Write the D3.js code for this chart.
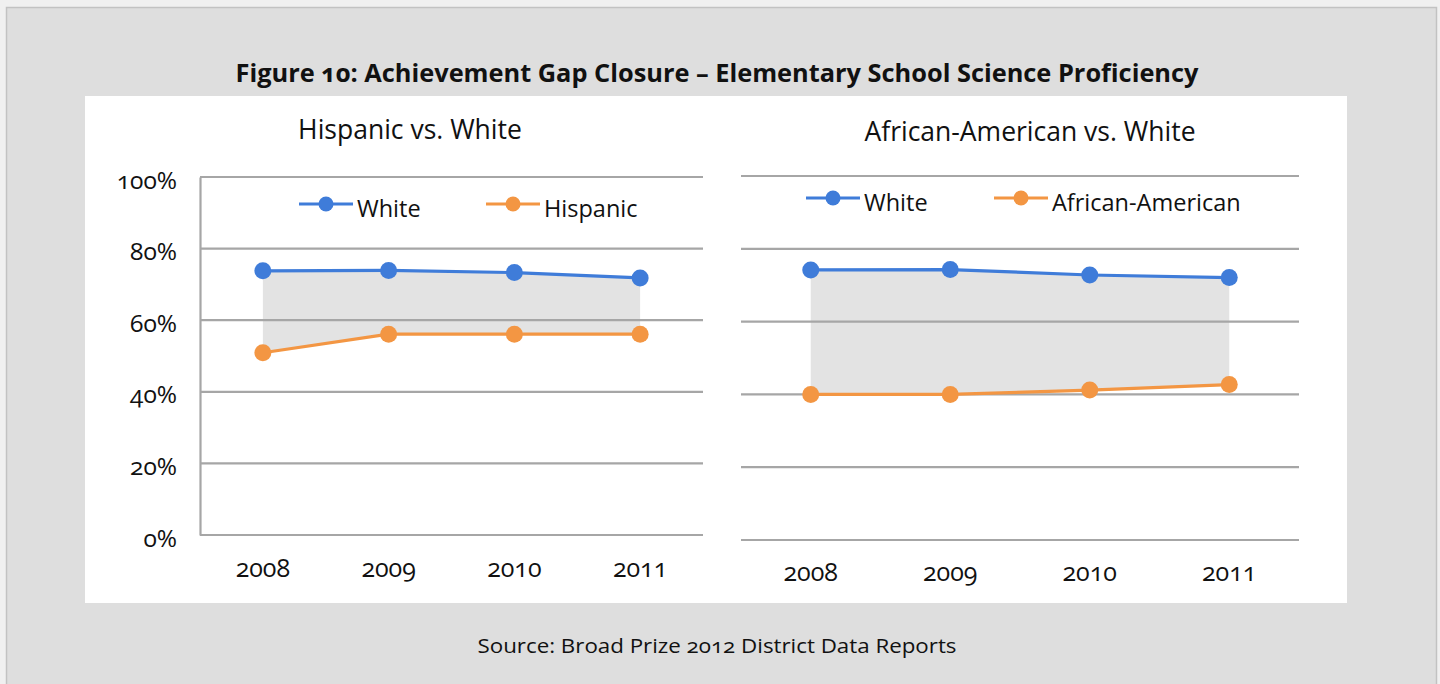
<!DOCTYPE html>
<html>
<head>
<meta charset="utf-8">
<script src="https://cdn.jsdelivr.net/npm/d3@7"></script>
<style>
  html, body { margin: 0; padding: 0; background: #f0f0f0; }
  svg { display: block; font-family: "Open Sans", "Noto Sans", sans-serif; font-variant-numeric: oldstyle-nums; }
  text { font-feature-settings: "onum" 1; }
</style>
</head>
<body>
<svg id="chart" width="1440" height="684"></svg>
<script>
// ---------- data ----------
const years = ["2008", "2009", "2010", "2011"];
const whiteVsHispanic = [73.8, 73.9, 73.3, 71.8];
const hispanic = [50.9, 56.1, 56.1, 56.1];
const whiteVsAfricanAmerican = [74.2, 74.3, 72.8, 72.1];
const africanAmerican = [40.0, 40.0, 41.2, 42.7];
const yTickValues = [0, 20, 40, 60, 80, 100];

const figureTitle = "Figure 10: Achievement Gap Closure \u2013 Elementary School Science Proficiency";
const sourceText = "Source: Broad Prize 2012 District Data Reports";

const BLUE = "#3f7cd9";
const ORANGE = "#f39643";
const GRID = "#a6a6a6";
const FILL = "#e3e3e3";

const svg = d3.select("#chart");

// outer frame
svg.append("rect").attr("x", 6.5).attr("y", 7.5).attr("width", 1430).attr("height", 690)
  .attr("fill", "#dedede").attr("stroke", "#c2c2c2").attr("stroke-width", 1.5);

// white panel
svg.append("rect").attr("x", 85).attr("y", 96).attr("width", 1262).attr("height", 507).attr("fill", "#ffffff");

// main title
svg.append("text").attr("x", 717).attr("y", 82).attr("text-anchor", "middle")
  .attr("font-size", 25).attr("font-weight", 700).attr("fill", "#111")
  .attr("textLength", 963).attr("lengthAdjust", "spacingAndGlyphs").text(figureTitle);

// source
svg.append("text").attr("x", 717).attr("y", 653).attr("text-anchor", "middle")
  .attr("font-size", 20).attr("fill", "#111").attr("textLength", 479).attr("lengthAdjust", "spacingAndGlyphs")
  .text(sourceText);

const panels = [
  {
    title: "Hispanic vs. White", titleX: 410, titleY: 139,
    x0: 200, x1: 703, yTop: 177, yBottom: 535, yAxis: true, xLabelY: 577,
    series: [
      { name: "White", values: whiteVsHispanic, color: BLUE, legendX: 326, legendY: 204 },
      { name: "Hispanic", values: hispanic, color: ORANGE, legendX: 513, legendY: 204 }
    ]
  },
  {
    title: "African-American vs. White", titleX: 1030, titleY: 141,
    x0: 741, x1: 1299, yTop: 176, yBottom: 540, yAxis: false, xLabelY: 581,
    series: [
      { name: "White", values: whiteVsAfricanAmerican, color: BLUE, legendX: 833, legendY: 198 },
      { name: "African-American", values: africanAmerican, color: ORANGE, legendX: 1021, legendY: 198 }
    ]
  }
];

panels.forEach(p => {
  const g = svg.append("g");
  const x = d3.scaleBand().domain(years).range([p.x0, p.x1]);
  const y = d3.scaleLinear().domain([0, 100]).range([p.yBottom, p.yTop]);
  const cx = d => x(d) + x.bandwidth() / 2;

  // chart title
  g.append("text").attr("x", p.titleX).attr("y", p.titleY).attr("text-anchor", "middle")
    .attr("font-size", 26.5).attr("fill", "#111").text(p.title);

  // gap area
  const hi = p.series[0].values, lo = p.series[1].values;
  const area = d3.area().x((d, i) => cx(years[i])).y0((d, i) => y(lo[i])).y1((d, i) => y(hi[i]));
  g.append("path").datum(hi).attr("d", area).attr("fill", FILL);

  // gridlines
  g.selectAll(".grid").data(yTickValues).join("line")
    .attr("x1", p.x0).attr("x2", p.x1)
    .attr("y1", d => y(d)).attr("y2", d => y(d))
    .attr("stroke", GRID).attr("stroke-width", 2.2);

  // y axis
  if (p.yAxis) {
    const ax = g.append("g").attr("transform", `translate(${p.x0},0)`)
      .call(d3.axisLeft(y).tickValues(yTickValues).tickSize(0).tickPadding(23).tickFormat(d => d + "%"));
    ax.select(".domain").attr("stroke", GRID).attr("stroke-width", 2.2);
    ax.selectAll("text").attr("font-size", 24.5).attr("fill", "#111")
      .attr("font-family", "\"Open Sans\", sans-serif").attr("dy", "0.45em");
  }

  // x labels
  const xa = g.append("g").attr("transform", `translate(0,${p.xLabelY})`)
    .call(d3.axisBottom(x).tickSize(0).tickPadding(0));
  xa.select(".domain").remove();
  xa.selectAll("text").attr("font-size", 25).attr("fill", "#111").attr("dy", 0)
    .attr("font-family", "\"Open Sans\", sans-serif");

  // series lines + markers
  p.series.forEach(s => {
    const line = d3.line().x((d, i) => cx(years[i])).y(d => y(d));
    g.append("path").datum(s.values).attr("d", line).attr("fill", "none")
      .attr("stroke", s.color).attr("stroke-width", 3.2);
    g.selectAll(null).data(s.values).join("circle")
      .attr("cx", (d, i) => cx(years[i])).attr("cy", d => y(d)).attr("r", 8.5).attr("fill", s.color);

    // legend
    g.append("line").attr("x1", s.legendX - 27).attr("x2", s.legendX + 27)
      .attr("y1", s.legendY).attr("y2", s.legendY).attr("stroke", s.color).attr("stroke-width", 3.2);
    g.append("circle").attr("cx", s.legendX).attr("cy", s.legendY).attr("r", 7.5).attr("fill", s.color);
    g.append("text").attr("x", s.legendX + 31).attr("y", s.legendY + 13)
      .attr("font-size", 23.5).attr("fill", "#111").text(s.name);
  });
});
</script>
</body>
</html>
